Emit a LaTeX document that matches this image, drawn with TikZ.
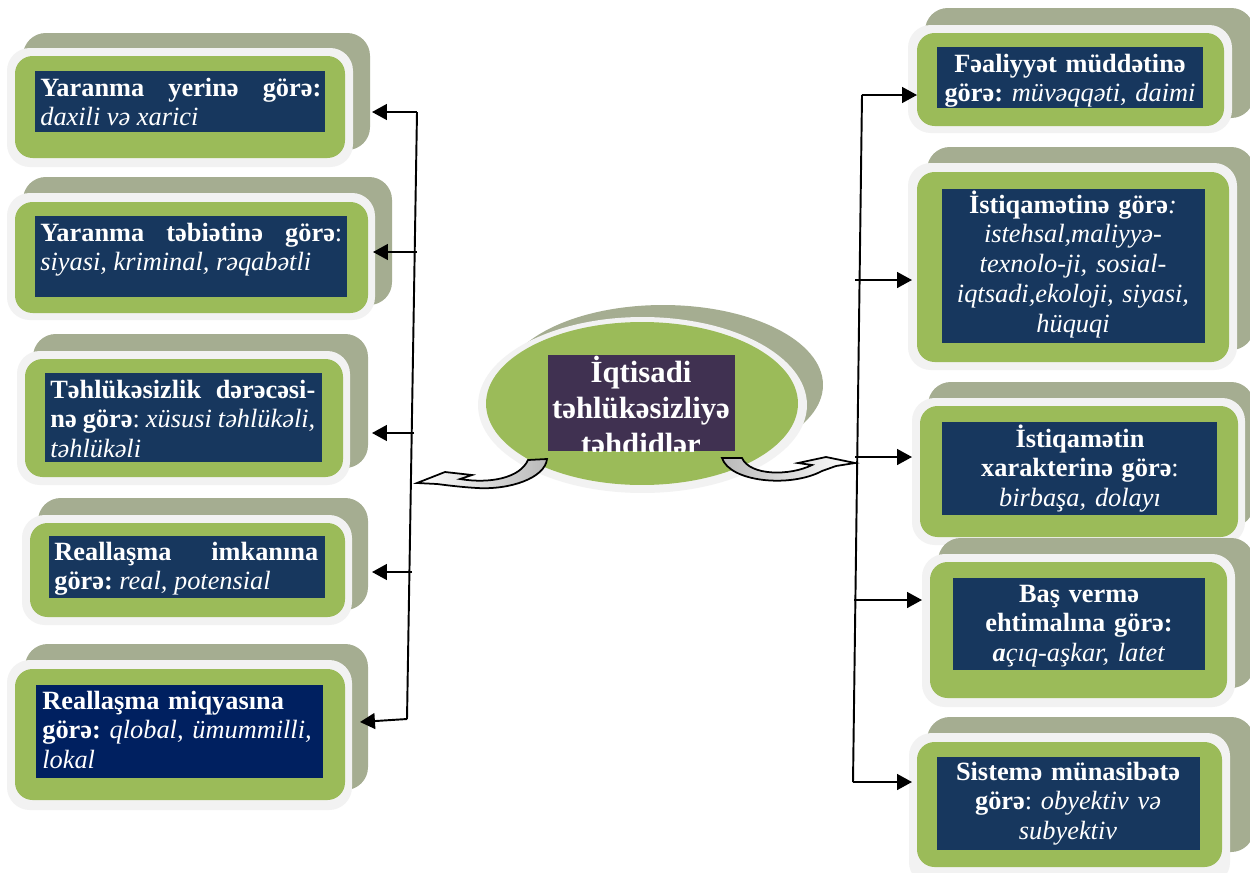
\documentclass[tikz,border=0pt]{standalone}
\usepackage{fontspec}
\setmainfont{Liberation Serif}
\usetikzlibrary{arrows.meta}
\definecolor{shadowc}{HTML}{A5AD91}
\definecolor{litec}{HTML}{F2F2F2}
\definecolor{greenc}{HTML}{9BBB59}
\definecolor{bluec}{HTML}{17375E}
\definecolor{navyc}{HTML}{002060}
\definecolor{purplec}{HTML}{403151}
\frenchspacing
\begin{document}
\frenchspacing
\begin{tikzpicture}[x=0.02cm,y=-0.02cm,
  shad/.style={fill=shadowc,rounded corners=13pt},
  lite/.style={fill=litec,rounded corners=13pt},
  grn/.style={fill=greenc,rounded corners=10pt},
  blu/.style={fill=bluec},
  ltxt/.style={text=white,inner sep=0pt,anchor=base west,align=justify,font=\fontsize{15}{17}\selectfont\frenchspacing},
  rtxt/.style={text=white,inner sep=0pt,anchor=base,align=center,font=\fontsize{15}{17}\selectfont\frenchspacing},
  spine/.style={line width=1.1pt},
  conn/.style={line width=1.1pt,-{Triangle[length=8.5pt,width=9pt]}},
  curvl/.style={draw=black,line width=1pt,left color=white,right color=gray!55},
  curvr/.style={draw=black,line width=1pt,left color=gray!55,right color=white}]
\clip (0,0) rectangle (1250,872);
\fill[white] (0,0) rectangle (1250,872);
% ---- left boxes
\path[shad] (23,33) rectangle (370,150);
\path[lite] (7,48) rectangle (353,167);
\path[grn] (15,56) rectangle (345,158);
\path[blu] (35,71) rectangle (325,132);
\node[ltxt,text width=5.62cm] (L1x) at (40,96) {\textbf{Yaranma yerinə görə:}\linebreak\textit{daxili və xarici}};

\path[shad] (23,177) rectangle (392,305);
\path[lite] (7,193) rectangle (375,320);
\path[grn] (15,202) rectangle (368,313);
\path[blu] (35,216) rectangle (347,297);
\node[ltxt,text width=6.04cm] (L2x) at (40,241) {\textbf{Yaranma təbiətinə görə}:\linebreak\textit{siyasi, kriminal, rəqabətli}};

\path[shad] (33,334) rectangle (368,468);
\path[lite] (17,351) rectangle (350,485);
\path[grn] (25,359) rectangle (343,477);
\path[blu] (45,373) rectangle (322,462);
\begin{scope}
\clip (45,373) rectangle (322,462);
\node[ltxt,text width=5.3cm] (L3x) at (50,398) {\textbf{Təhlükəsizlik dərəcəsi-}\linebreak\textbf{nə görə}: \textit{xüsusi təhlükəli,}\linebreak\textit{təhlükəli}};
\end{scope}

\path[shad] (38,498) rectangle (368,610);
\path[lite] (22,515) rectangle (352,625);
\path[grn] (30,523) rectangle (345,617);
\path[blu] (49,536) rectangle (325,598);
\node[ltxt,text width=5.28cm] (L4x) at (54,560) {\textbf{Reallaşma imkanına}\linebreak\textbf{görə:} \textit{real, potensial}};

\path[shad] (25,644) rectangle (368,790);
\path[lite] (7,660) rectangle (352,810);
\path[grn] (15,669) rectangle (345,800);
\path[fill=navyc] (36,685) rectangle (323,778);
\node[ltxt,align=left,text width=5.7cm] (L5x) at (42,709) {\textbf{Reallaşma miqyasına}\\\textbf{görə:} \textit{qlobal, ümummilli,}\\\textit{lokal}};

% ---- right boxes
\path[shad] (925,8) rectangle (1254,118);
\path[lite] (908,25) rectangle (1232,133);
\path[grn] (917,33) rectangle (1224,126);
\path[blu] (937,47) rectangle (1203,108);
\node[rtxt,text width=5.3cm] (R1x) at (1070,72) {\textbf{Fəaliyyət müddətinə}\\\textbf{görə:} \textit{müvəqqəti, daimi}};

\path[shad] (927,147) rectangle (1254,350);
\path[lite] (908,163) rectangle (1237,370);
\path[grn] (917,172) rectangle (1229,362);
\path[blu] (942,189) rectangle (1205,343);
\node[rtxt,text width=5.2cm] (R2x) at (1073,213) {\textbf{İstiqamətinə görə}\textit{:}\\\textit{istehsal,maliyyə-}\\\textit{texnolo-ji, sosial-}\\\textit{iqtsadi,ekoloji, siyasi,}\\\textit{hüquqi}};

\path[shad] (928,382) rectangle (1254,527);
\path[lite] (912,398) rectangle (1245,545);
\path[grn] (920,406) rectangle (1238,537);
\path[blu] (942,422) rectangle (1217,515);
\node[rtxt,text width=5.4cm] (R3x) at (1080,447) {\textbf{İstiqamətin}\\\textbf{xarakterinə görə}:\\\textit{birbaşa, dolayı}};

\path[shad] (938,538) rectangle (1254,688);
\path[lite] (922,554) rectangle (1235,707);
\path[grn] (930,562) rectangle (1227,698);
\path[blu] (953,578) rectangle (1205,670);
\node[rtxt,text width=5cm] (R4x) at (1079,602) {\textbf{Baş vermə}\\\textbf{ehtimalına görə:}\\\textbf{\textit{a}}\textit{çıq-aşkar, latet}};

\path[shad] (927,717) rectangle (1254,852);
\path[lite] (909,733) rectangle (1230,885);
\path[grn] (917,742) rectangle (1222,867);
\path[blu] (937,757) rectangle (1200,850);
\node[rtxt,text width=5.2cm] (R5x) at (1068,780) {\textbf{Sistemə münasibətə}\\\textbf{görə}: \textit{obyektiv və}\\\textit{subyektiv}};

% ---- centre
\fill[shadowc] (663,385) ellipse [x radius=3.2cm, y radius=1.6cm];
\fill[litec] (642.5,405) ellipse [x radius=3.29cm, y radius=1.76cm];
\fill[greenc] (642,403.5) ellipse [x radius=3.12cm, y radius=1.63cm];
\fill[purplec] (548,355) rectangle (735,451);
\begin{scope}
\clip (548,355) rectangle (735,451);
\node[text=white,inner sep=0pt,anchor=base,align=center,text width=3.7cm,font=\fontsize{17.5}{20.5}\selectfont\bfseries] (C) at (641,382) {İqtisadi\\təhlükəsizliyə\\təhdidlər};
\end{scope}

% ---- connectors left
\coordinate (lt) at (417,112);
\coordinate (lb) at (407,719);
\coordinate (l2) at (417,252);
\coordinate (l3) at (414,433);
\coordinate (l4) at (412,572);
\coordinate (L1t) at (372,112);
\coordinate (L2t) at (373,252);
\coordinate (L3t) at (372,433);
\coordinate (L4t) at (372,572);
\coordinate (L5t) at (360,722);
\draw[spine] (lt) -- (lb);
\draw[conn] (lt) -- (L1t);
\draw[conn] (l2) -- (L2t);
\draw[conn] (l3) -- (L3t);
\draw[conn] (l4) -- (L4t);
\draw[conn] (lb) -- (L5t);

% ---- connectors right
\coordinate (rt) at (862,95);
\coordinate (rb) at (853,782);
\coordinate (r2) at (855,280);
\coordinate (r3) at (855,457);
\coordinate (r4) at (854,600);
\coordinate (R1t) at (917,95);
\coordinate (R2t) at (912,280);
\coordinate (R3t) at (912,457);
\coordinate (R4t) at (922,600);
\coordinate (R5t) at (912,782);
\draw[spine] (rt) -- (rb);
\draw[conn] (rt) -- (R1t);
\draw[conn] (r2) -- (R2t);
\draw[conn] (r3) -- (R3t);
\draw[conn] (r4) -- (R4t);
\draw[conn] (rb) -- (R5t);

% ---- curved block arrows
\path[curvl] (547,459) .. controls (545,478) and (510,490) .. (477,488) .. controls (460,487) and (445,485) .. (437,484) -- (417,483) -- (445,472) -- (472,475) -- (460,479) .. controls (490,484) and (520,478) .. (528,460) -- cycle;
\path[curvr] (722,458) .. controls (730,482) and (790,488) .. (822,471) -- (836,466) -- (855,463) -- (826,457) -- (798,463) -- (812,465) .. controls (790,476) and (750,476) .. (742,458) -- cycle;
\end{tikzpicture}
\end{document}
